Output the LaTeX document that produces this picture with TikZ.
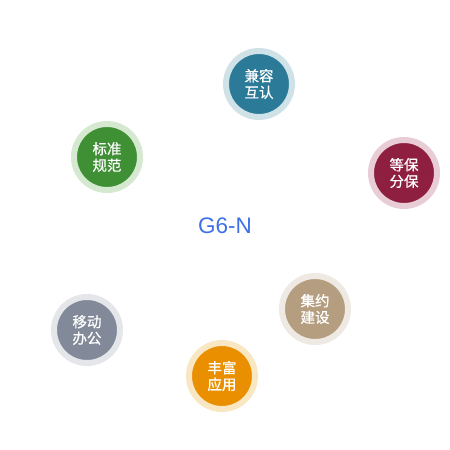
\documentclass[tikz,border=0pt]{standalone}
\usepackage{fontspec}
\setmainfont{Liberation Sans}
\newfontfamily\cjk[FakeBold=0.6]{Noto Sans CJK SC}
\definecolor{cTeal}{HTML}{2B7A98}
\definecolor{rTeal}{HTML}{CFE2E8}
\definecolor{cRed}{HTML}{8E1F40}
\definecolor{rRed}{HTML}{E8CCD6}
\definecolor{cTan}{HTML}{B59E80}
\definecolor{rTan}{HTML}{EEEAE3}
\definecolor{cOrange}{HTML}{E98F00}
\definecolor{rOrange}{HTML}{F9E6C3}
\definecolor{cGray}{HTML}{828A9A}
\definecolor{rGray}{HTML}{E4E6EA}
\definecolor{cGreen}{HTML}{3F8F35}
\definecolor{rGreen}{HTML}{D5E8D0}
\definecolor{cBlue}{HTML}{3F6FE8}
\tikzset{
  bubble/.style 2 args={circle, minimum size=66pt, inner sep=0pt, line width=6pt,
    fill=#1, draw=#2, text=white, align=center,
    font=\cjk\fontsize{14.5}{16.5}\selectfont},
}
\begin{document}
\begin{tikzpicture}[x=1pt,y=-1pt]
\useasboundingbox (0,0) rectangle (450,450);
\node[text=cBlue, font=\fontsize{22.5}{24}\selectfont] (center) at (225,226) {G6-N};
\node[bubble={cTeal}{rTeal}] (a) at (259,84) {兼容\\互认};
\node[bubble={cRed}{rRed}] (b) at (404,173) {等保\\分保};
\node[bubble={cTan}{rTan}] (c) at (315,309) {集约\\建设};
\node[bubble={cOrange}{rOrange}] (d) at (222,376) {丰富\\应用};
\node[bubble={cGray}{rGray}] (e) at (87,330) {移动\\办公};
\node[bubble={cGreen}{rGreen}] (f) at (107,157) {标准\\规范};
\end{tikzpicture}
\end{document}
